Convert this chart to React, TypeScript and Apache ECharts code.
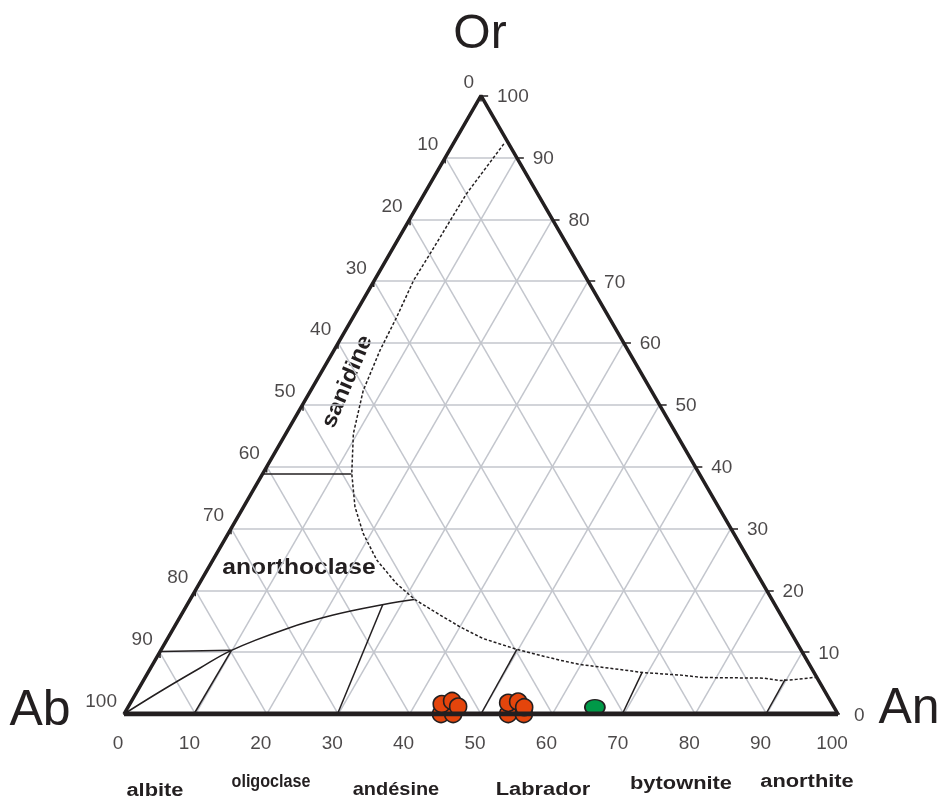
import React, { useEffect, useRef } from "react";
import * as echarts from "echarts";

// ---- data (ternary: [An %, Or %], Ab = 100 - An - Or) ----
const gridSteps = [10, 20, 30, 40, 50, 60, 70, 80, 90];
const tickSteps = [0, 10, 20, 30, 40, 50, 60, 70, 80, 90, 100];
const bottomTickLabels = ["0", "10", "20", "30", "40", "50", "60", "70", "80", "90", "100"];
const leftTickLabels = ["100", "90", "80", "70", "60", "50", "40", "30", "20", "10", "0"];
const rightTickLabels = ["0", "10", "20", "30", "40", "50", "60", "70", "80", "90", "100"];

const anorthoclaseCurve: [number, number][] = [
  [0, 0], [3.4, 3.8], [6.9, 7.4], [9.9, 10.3], [15.9, 13.8], [21.3, 16.0], [27.5, 17.7], [31.4, 18.5],
];
const boundarySegments: [number, number][][] = [
  [[0, 10.1], [9.9, 10.3]],
  [[9.8, 0], [9.9, 10.3]],
  [[0, 38.9], [12.4, 38.9]],
  [[29.9, 0], [27.4, 17.7]],
  [[50, 0], [49.8, 10.45]],
  [[69.8, 0], [69.2, 6.7]],
  [[89.9, 0], [89.8, 5.6]],
];
const solvusCurve: [number, number][] = [
  [7.1, 92.2], [5.9, 84.1], [5.65, 74.4], [5.5, 70.1], [6.1, 64.2], [6.45, 58.8], [7.35, 52.3],
  [9.45, 45.35], [12.45, 38.9], [15.6, 33.5], [18.9, 29.2], [22.95, 24.9], [27.6, 21.1],
  [31.5, 18.5], [35.7, 16.3], [40.0, 14.1], [44.2, 12.2], [49.8, 10.45], [53.5, 9.5],
  [56.7, 8.7], [59.9, 8.0], [64.4, 7.4], [69.4, 6.7], [74.7, 6.3], [78.2, 5.9],
  [86.7, 5.8], [89.2, 5.4], [91.4, 5.6], [93.6, 5.9], [94.1, 5.9],
];
const orangeSamples: [number, number][] = [
  [44.4, 0], [46.1, 0], [43.7, 1.6], [44.9, 2.1], [46.2, 1.2],
  [53.8, 0], [56.0, 0], [52.9, 1.8], [54.2, 2.0], [55.5, 1.1],
];
const greenSamples: [number, number][] = [[65.4, 1.1]];

const fieldNames = ["albite", "oligoclase", "andésine", "Labrador", "bytownite", "anorthite"];

// ---- helpers ----
const SQ = Math.sqrt(3) / 2;
const tern = (an: number, or: number): [number, number] => [an + or / 2, or * SQ];

export default function App() {
  const ref = useRef<HTMLDivElement>(null);
  useEffect(() => {
    if (!ref.current) return;
    const chart = echarts.init(ref.current, null, { renderer: "svg" });
    const dark = "#231f20";
    const font = "'Liberation Sans', Arial, Helvetica, sans-serif";

    const gridLines: any[] = [];
    gridSteps.forEach((k) => {
      gridLines.push({ coords: [tern(0, k), tern(100 - k, k)] });
      gridLines.push({ coords: [tern(k, 0), tern(k, 100 - k)] });
      gridLines.push({ coords: [tern(100 - k, 0), tern(0, 100 - k)] });
    });

    const ticks: any[] = [];
    tickSteps.forEach((k) => {
      ticks.push({ coords: [tern(k, 0), tern(k + 1.2, -1.2)] });
      ticks.push({ coords: [tern(100 - k, k), tern(100 - k + 1.0, k)] });
      ticks.push({ coords: [tern(0, k), tern(0.45, k - 0.95)] });
    });

    const labelSeries = (data: any[], label: any) => ({
      type: "scatter",
      symbolSize: 0.1,
      itemStyle: { color: "transparent" },
      silent: true,
      z: 5,
      clip: false,
      data,
      label: {
        show: true,
        position: "inside",
        fontFamily: font,
        fontSize: 19,
        color: "#1e1a1b",
        textBorderWidth: 0,
        verticalAlign: "middle",
        ...label,
      },
    });

    const bottomLabelData = tickSteps.map((k, i) => ({ value: tern(k, 0), name: bottomTickLabels[i] }));
    const rightLabelData = tickSteps.map((k, i) => ({ value: tern(100 - k, k), name: rightTickLabels[i] }));
    const leftLabelData = tickSteps.map((k, i) => ({ value: tern(0, k), name: leftTickLabels[i] }));

    const fieldPos = [
      [155, 789, 1.15], [271, 781, 0.85], [396, 788, 1.05], [543, 788, 1.15], [681, 782, 1.15], [807, 780, 1.15],
    ];

    chart.setOption({
      animation: false,
      grid: { left: 124, right: 101, top: 803 - 89 - 714 * SQ, bottom: 89 },
      xAxis: { type: "value", min: 0, max: 100, show: false },
      yAxis: { type: "value", min: 0, max: 100 * SQ, show: false },
      series: [
        {
          type: "lines",
          coordinateSystem: "cartesian2d",
          silent: true,
          z: 1,
          lineStyle: { color: "#c3c6cd", width: 1.5, opacity: 1 },
          data: gridLines,
        },
        {
          type: "lines",
          coordinateSystem: "cartesian2d",
          silent: true,
          z: 2,
          lineStyle: { color: dark, width: 1.5, opacity: 1 },
          data: boundarySegments.map((s) => ({ coords: s.map((p) => tern(p[0], p[1])) })),
        },
        {
          type: "line",
          silent: true,
          z: 2,
          smooth: 0.4,
          showSymbol: false,
          lineStyle: { color: dark, width: 1.5 },
          data: anorthoclaseCurve.map((p) => tern(p[0], p[1])),
        },
        {
          type: "line",
          silent: true,
          z: 2,
          showSymbol: false,
          lineStyle: { color: dark, width: 1.5, type: [3, 2] },
          data: solvusCurve.map((p) => tern(p[0], p[1])),
        },
        {
          type: "scatter",
          z: 3,
          clip: false,
          symbolSize: 17,
          itemStyle: { color: "#e4450c", borderColor: dark, borderWidth: 1.6, opacity: 1 },
          data: orangeSamples.map((p) => tern(p[0], p[1])),
        },
        {
          type: "scatter",
          z: 3,
          clip: false,
          symbolSize: [20, 15],
          itemStyle: { color: "#009948", borderColor: dark, borderWidth: 1.6, opacity: 1 },
          data: greenSamples.map((p) => tern(p[0], p[1])),
        },
        {
          type: "line",
          silent: true,
          z: 4,
          showSymbol: false,
          lineStyle: { color: dark, width: 3.5 },
          data: [tern(100, 0), tern(0, 100), tern(0, 0)],
        },
        {
          type: "line",
          silent: true,
          z: 4,
          showSymbol: false,
          lineStyle: { color: dark, width: 5 },
          data: [tern(0, 0), tern(100, 0)],
        },
        {
          type: "lines",
          coordinateSystem: "cartesian2d",
          silent: true,
          z: 4,
          lineStyle: { color: dark, width: 1.5, opacity: 1 },
          data: ticks,
        },
        labelSeries(bottomLabelData, { formatter: (p: any) => p.name, align: "center", offset: [-6, 28] }),
        labelSeries(rightLabelData, { formatter: (p: any) => p.name, align: "left", offset: [16, 0] }),
        labelSeries(leftLabelData, { formatter: (p: any) => p.name, align: "right", offset: [-7, -14] }),
      ],
      graphic: [
        { type: "text", x: 480, y: 31, style: { text: "Or", font: `48px ${font}`, fill: dark, textAlign: "center", textVerticalAlign: "middle" } },
        { type: "text", x: 40, y: 708, style: { text: "Ab", font: `50px ${font}`, fill: dark, textAlign: "center", textVerticalAlign: "middle" } },
        { type: "text", x: 909, y: 706, style: { text: "An", font: `50px ${font}`, fill: dark, textAlign: "center", textVerticalAlign: "middle" } },
        ...fieldNames.map((n, i) => ({
          type: "text",
          x: fieldPos[i][0],
          y: fieldPos[i][1],
          scaleX: fieldPos[i][2],
          style: { text: n, font: `bold 19px ${font}`, fill: dark, textAlign: "center", textVerticalAlign: "middle" },
        })),
        {
          type: "text",
          x: 299,
          y: 566,
          scaleX: 1.12,
          style: { text: "anorthoclase", font: `bold 22px ${font}`, fill: dark, textAlign: "center", textVerticalAlign: "middle" },
        },
        {
          type: "text",
          x: 346,
          y: 381,
          rotation: (67 * Math.PI) / 180,
          scaleX: 1.1,
          style: { text: "sanidine", font: `bold 22px ${font}`, fill: dark, textAlign: "center", textVerticalAlign: "middle" },
        },
      ],
    });
    return () => chart.dispose();
  }, []);
  return <div ref={ref} style={{ position: "fixed", left: 0, top: 0, width: 939, height: 803 }} />;
}
